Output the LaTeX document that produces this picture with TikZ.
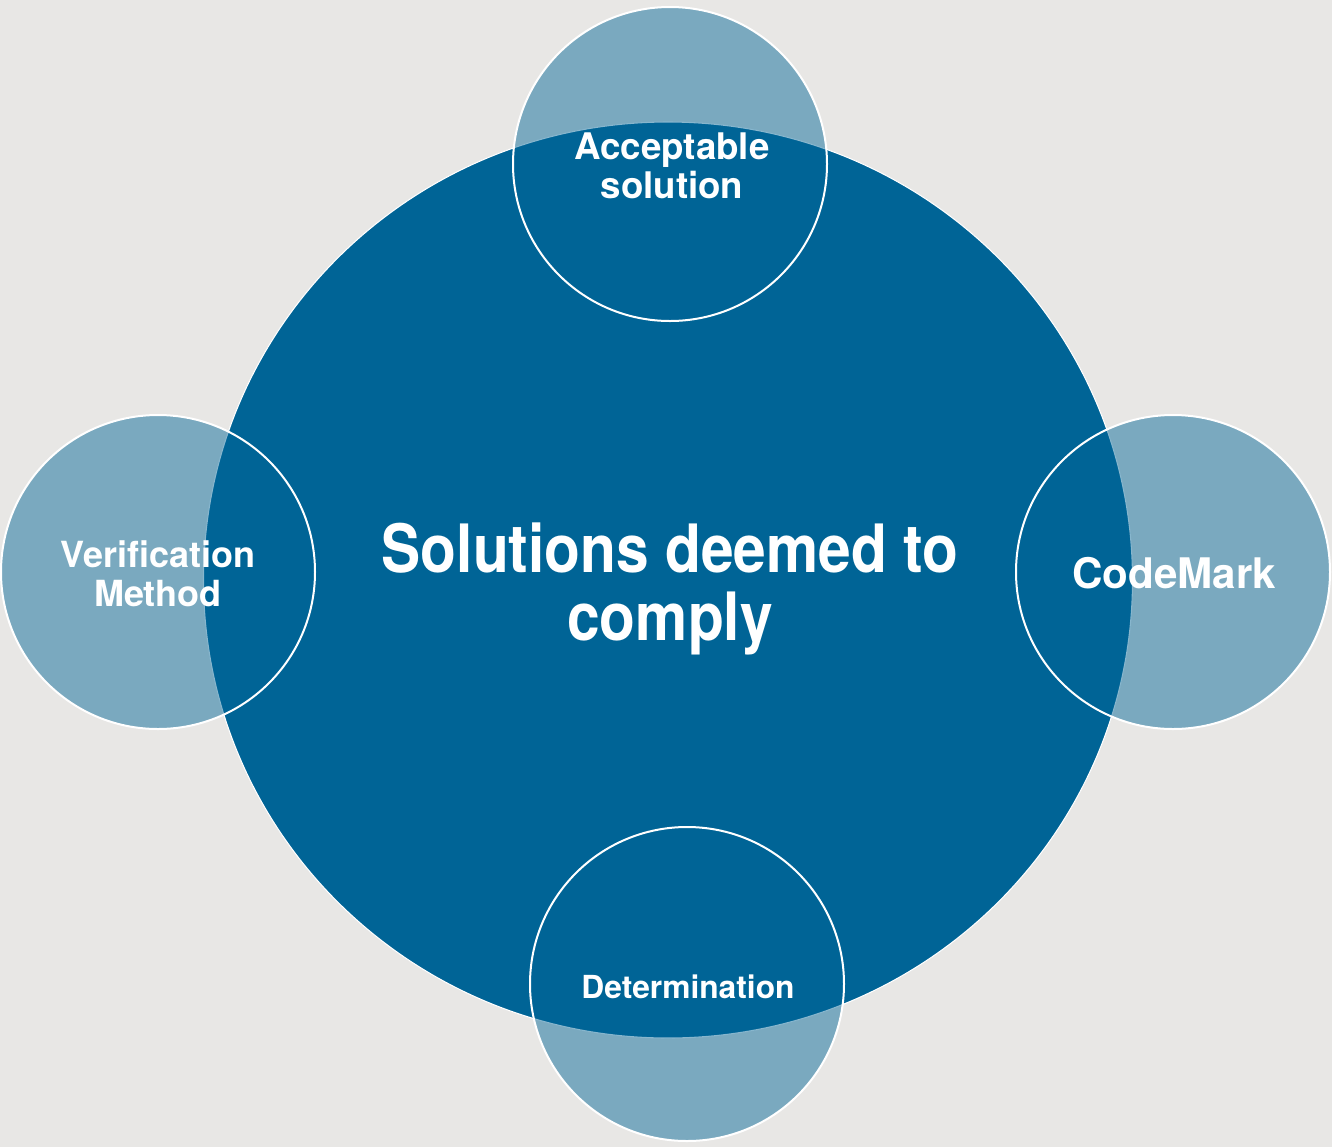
\documentclass[tikz,border=0pt]{standalone}
\usepackage{fontspec}
\setmainfont{TeX Gyre Heros}
\newfontfamily\stretto[FakeStretch=0.88]{TeX Gyre Heros}
\usetikzlibrary{shapes.geometric}
\definecolor{sfondo}{HTML}{E8E7E5}
\definecolor{bludeep}{HTML}{006496}
\tikzset{
    cerchio/.style={circle, draw=white, line width=1.5pt, fill=bludeep,
        fill opacity=0.47, minimum size=314*0.75pt, inner sep=0pt},
    centrale/.style={ellipse, draw=white, line width=0.8pt, fill=bludeep,
        minimum width=929*0.75pt, minimum height=916*0.75pt, inner sep=0pt},
    etichetta/.style={text=white, align=center}
}
\begin{document}
\begin{tikzpicture}[x=0.75pt, y=-0.75pt]

        % --- SFONDO ---
        \fill[sfondo] (0,0) rectangle (1332,1147);
        \useasboundingbox (0,0) rectangle (1332,1147);

        % Cerchio grande al centro
        \node[centrale] (sol) at (668,580) {};
        \node[etichetta, font={\fontsize{50}{51}\stretto\bfseries\selectfont}]
            (soltxt) at (670,589) {Solutions deemed to\\comply};

        % --- CERCHI PICCOLI (semitrasparenti) ---
        \node[cerchio] (acc) at (670,164) {};
        \node[etichetta, font={\fontsize{27.5}{29.5}\bfseries\selectfont}]
            (acctxt) at (672,166) {Acceptable\\solution};

        \node[cerchio] (ver) at (158,572) {};
        \node[etichetta, font={\fontsize{27}{29.5}\bfseries\selectfont}]
            (vertxt) at (158,574) {Verification\\Method};

        \node[cerchio] (cm) at (1173,572) {};
        \node[etichetta, font={\fontsize{31.6}{36}\bfseries\selectfont}]
            (cmtxt) at (1174,573) {CodeMark};

        \node[cerchio] (det) at (687,984) {};
        \node[etichetta, font={\fontsize{23.8}{28}\bfseries\selectfont}]
            (dettxt) at (688,987) {Determination};

    \end{tikzpicture}
\end{document}
